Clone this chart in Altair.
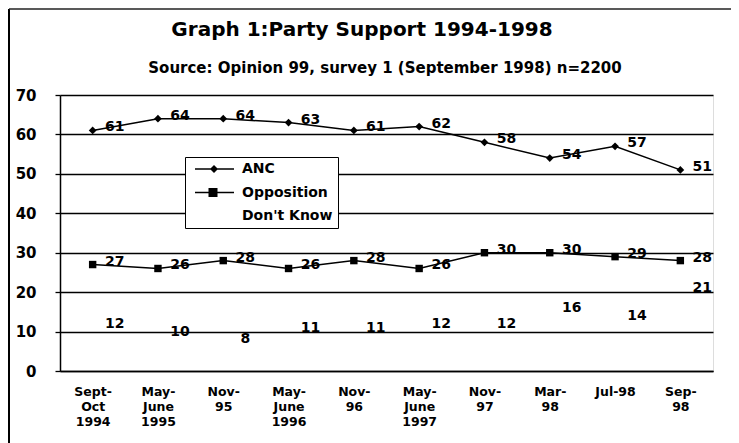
import altair as alt
import pandas as pd

periods = ["Sept-|Oct|1994", "May-|June|1995", "Nov-|95", "May-|June|1996", "Nov-|96",
           "May-|June|1997", "Nov-|97", "Mar-|98", "Jul-98", "Sep-|98"]
anc = [61, 64, 64, 63, 61, 62, 58, 54, 57, 51]
opposition = [27, 26, 28, 26, 28, 26, 30, 30, 29, 28]
dont_know = [12, 10, 8, 11, 11, 12, 12, 16, 14, 21]
series_names = ["ANC", "Opposition", "Don't Know"]
y_ticks = [0, 10, 20, 30, 40, 50, 60, 70]
title_text = "Graph 1:Party Support 1994-1998"
subtitle_text = "Source: Opinion 99, survey 1 (September 1998) n=2200"

rows = []
for name, vals in zip(series_names, [anc, opposition, dont_know]):
    for p, v in zip(periods, vals):
        rows.append({"period": p, "series": name, "value": v})
df = pd.DataFrame(rows)

FONT = "DejaVu Sans"

x_enc = alt.X(
    "period:N", sort=periods,
    scale=alt.Scale(type="point", domain=periods, padding=0.5),
    axis=alt.Axis(title=None, labelAngle=0, labelExpr="split(datum.label, '|')",
                  labelFont=FONT, labelFontSize=12.5, labelFontWeight="bold",
                  labelColor="black", labelLineHeight=15, labelPadding=14,
                  labelBaseline="top", ticks=False, domain=True, domainColor="black",
                  domainWidth=1.5, grid=False, labelOverlap=False, labelLimit=200),
)
y_enc = alt.Y(
    "value:Q", scale=alt.Scale(domain=[0, 70], nice=False, zero=True),
    axis=alt.Axis(title=None, values=y_ticks, grid=True, gridColor="black", gridWidth=1.3,
                  domain=True, domainColor="black", domainWidth=1.5, ticks=True,
                  tickSize=5, tickColor="black", tickWidth=1.3, labelFont=FONT,
                  labelFontSize=15, labelFontWeight="bold", labelColor="black",
                  labelPadding=19),
)

base = alt.Chart(df).encode(x=x_enc, y=y_enc)

lines = base.transform_filter("datum.series != \"Don't Know\"").mark_line(
    color="black", strokeWidth=1.5).encode(detail="series:N")

pts_anc = base.transform_filter("datum.series == 'ANC'").mark_point(
    shape="diamond", filled=True, color="black", size=60, opacity=1)
pts_opp = base.transform_filter("datum.series == 'Opposition'").mark_point(
    shape="square", filled=True, color="black", size=55, opacity=1)

labels_main = base.transform_filter("datum.series != \"Don't Know\"").mark_text(
    dx=22, dy=-3, font=FONT, fontSize=14, fontWeight="bold", color="black"
).encode(text="value:Q")
labels_dk = base.transform_filter("datum.series == \"Don't Know\"").mark_text(
    dx=22, dy=0, font=FONT, fontSize=14, fontWeight="bold", color="black"
).encode(text="value:Q")

legend_paths = [
    "M-0.4,-0.15H7.4V0.15H-0.4Z M3.4,-0.8L4.2,0L3.4,0.8L2.6,0Z",
    "M-0.4,-0.15H7.4V0.15H-0.4Z M2.3,-0.9H4.1V0.9H2.3Z",
    "M0,0",
]
legend_layer = base.transform_filter("false").mark_point(
    filled=True, color="black", opacity=1
).encode(
    shape=alt.Shape("series:N", scale=alt.Scale(domain=series_names, range=legend_paths),
                    legend=alt.Legend(title=None, orient="none", legendX=125, legendY=62,
                                      direction="vertical", strokeColor="black",
                                      fillColor="white", padding=5,
                                      symbolSize=100, symbolFillColor="black",
                                      symbolStrokeWidth=0, symbolOpacity=1,
                                      labelFont=FONT, labelFontSize=14,
                                      labelFontWeight="bold", labelColor="black",
                                      labelOffset=38, rowPadding=9.5))
)

one = pd.DataFrame({"k": [0]})
frame_left = alt.Chart(one).mark_rule(color="black", strokeWidth=2).encode(
    x=alt.value(-51), y=alt.value(-86), y2=alt.value(350))
frame_top = alt.Chart(one).mark_rule(color="#222222", strokeWidth=1.5).encode(
    x=alt.value(-51), x2=alt.value(680), y=alt.value(-86))
title_mark = alt.Chart(one).mark_text(
    font=FONT, fontSize=20, fontWeight="bold", color="black", align="center",
    baseline="alphabetic").encode(x=alt.value(302), y=alt.value(-59),
                                  text=alt.value(title_text))
subtitle_mark = alt.Chart(one).mark_text(
    font=FONT, fontSize=15, fontWeight="bold", color="black", align="center",
    baseline="alphabetic").encode(x=alt.value(325), y=alt.value(-22),
                                  text=alt.value(subtitle_text))

chart = alt.layer(
    lines, pts_anc, pts_opp, labels_main, labels_dk, legend_layer,
    frame_left, frame_top, title_mark, subtitle_mark
).properties(
    width=653, height=276,
    autosize=alt.AutoSizeParams(type="none"),
    padding={"left": 52, "top": 87, "right": 18, "bottom": 72},
).configure_view(stroke=None).configure(background="white")

chart.save("out.html", embed_options={"renderer": "svg", "actions": False})
